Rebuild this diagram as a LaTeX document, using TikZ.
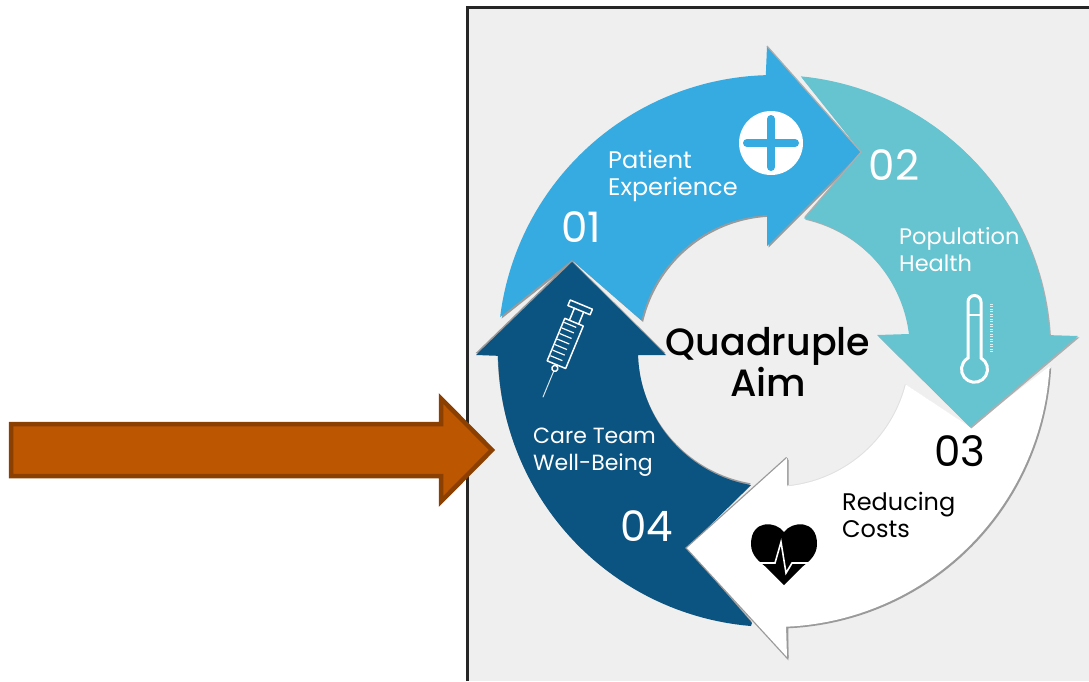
\documentclass[tikz,border=0pt]{standalone}
\usepackage{fontspec}
\setmainfont{Poppins}
\newfontfamily\qfont{Poppins Medium}
\definecolor{bgrey}{HTML}{EFEFEF}
\definecolor{cblue}{HTML}{35ABE2}
\definecolor{cteal}{HTML}{66C3D0}
\definecolor{cdark}{HTML}{0B5380}
\definecolor{corange}{HTML}{BC5600}
\definecolor{cedge}{HTML}{8B3F00}
\definecolor{cshadow}{HTML}{9A9A9A}
\tikzset{
  lab/.style={text=white,align=left,anchor=west,inner sep=0pt,font=\fontsize{#1}{27}\selectfont},
  num/.style={text=white,anchor=center,inner sep=0pt,font=\fontsize{42}{44}\selectfont},
  icon/.style={draw=white,line width=1.5pt,line join=round,line cap=round},
  outerarc/.style 2 args={insert path={-- plot[domain=#1:#2,samples=50] ({774+276*cos(\x)},{351+276*sin(\x)})}},
  innerarc/.style 2 args={insert path={-- plot[domain=#1:#2,samples=40] ({774+136*cos(\x)},{351+136*sin(\x)})}},
  bluepath/.style={insert path={(500,317) [outerarc={187}{268.3}] -- (767,46) -- (861,152) -- (767,246) -- (767,215) [innerarc={266.6}{193}] -- (572,260) -- cycle}},
  tealpath/.style={insert path={(802,78) [outerarc={-84.4}{-3.3}] -- (1078,336) -- (970,427) -- (877,335) -- (909,334) [innerarc={-7.6}{-77.3}] -- (861,152) -- cycle}},
  whitepath/.style={insert path={(1050,366) [outerarc={3.2}{87.5}] -- (787,657) -- (687,548) -- (787,458) -- (787,486) [innerarc={85}{14.3}] -- (970,427) -- cycle}},
  darkpath/.style={insert path={(752,623) [outerarc={94.8}{179}] -- (476,355) -- (572,262) -- (666,355) -- (638,355) [innerarc={178}{99.7}] -- (687,548) -- cycle}}
}
\begin{document}
\begin{tikzpicture}[x=1pt,y=-1pt]
\useasboundingbox (0,0) rectangle (1089,681);
\fill[white] (0,0) rectangle (1089,681);
% frame
\fill[bgrey] (467,7) rectangle (1089,681);
\draw[black!85,line width=3pt] (467,681) -- (467,7) -- (1089,7);
% ring
\fill[cshadow,shift={(1.6,1.6)},bluepath];
\fill[cblue,bluepath];
\fill[cshadow,shift={(-0.5,-1.8)},darkpath];
\fill[cdark,darkpath];
\fill[cshadow,shift={(1.6,1.6)},whitepath];
\draw[cshadow,line width=2.6pt,line join=miter] (787,458) -- (687,548) -- (787,657) -- (787,625);
\draw[cshadow,line width=2.6pt] (787,458) -- (787,486);
\draw[black!12,line width=2pt] plot[domain=85:14.3,samples=40] ({774+136*cos(\x)},{351+136*sin(\x)});
\fill[white,whitepath];
\fill[cshadow!80,shift={(1.4,1.4)},tealpath];
\fill[cteal,tealpath];
\draw[cshadow!80,line width=1.2pt] (767,46) -- (861,152) -- (805,217);
% plus icon
\fill[white] (771,143) circle[radius=32];
\draw[cblue,line width=8pt,line cap=round] (771,119) -- (771,167) (747,143) -- (795,143);
% syringe
\begin{scope}[shift={(543,397)},x={(0.924pt,-0.383pt)},y={(0.383pt,0.924pt)}]
\draw[white!85!cdark,line width=1pt,line cap=round] (0,0) -- (0,28);
\draw[icon] (0,31) circle[radius=3];
\draw[icon] (-10,35) -- (10,35) -- (10,81) -- (-10,81) -- cycle;
\foreach \v in {41,47,...,77} \draw[white,line width=1.2pt] (-9,\v) -- (4,\v);
\draw[icon] (-5,81) -- (-5,94) (5,81) -- (5,94);
\draw[icon] (-12,94) -- (12,94) -- (12,100) -- (-12,100) -- cycle;
\end{scope}
% thermometer
\draw[white,line width=3pt] (968,358) -- (968,302) arc[start angle=180,end angle=360,radius=6.5] -- (981,358)
  arc[start angle=-60,end angle=240,radius=13] -- cycle;
\draw[white,line width=2.2pt] (968,315) -- (981,315);
\foreach \t in {304,306.5,...,352} \draw[white!75!cteal,line width=1pt] (990,\t) -- (993,\t);
% heart
\fill[black] (784,532) .. controls (776,521) and (751,519) .. (751,544)
  .. controls (751,556) and (760,562) .. (766,567) -- (784,585) -- (802,567)
  .. controls (808,562) and (817,556) .. (817,544) .. controls (817,519) and (792,521) .. (784,532) -- cycle;
\draw[white,line width=1.6pt,line join=miter] (760,563) -- (775,563) -- (781,542) -- (786,573) -- (792,563) -- (808,563);
% labels
\node[lab=24] (patient) at (608,176) {Patient\\Experience};
\node[lab=22.5] (population) at (899,250) {Population\\Health};
\node[lab=24,text=black] (reducing) at (842,515) {Reducing\\Costs};
\node[lab=22] (care) at (533,452) {Care Team\\Well-Being};
\node[num] (n1) at (581,227) {01};
\node[num] (n2) at (894,165) {02};
\node[num,text=black] (n3) at (960,451) {03};
\node[num] (n4) at (647,526) {04};
\node[inner sep=0pt,align=center,font=\qfont\fontsize{38}{37}\selectfont] (aim) at (768,362) {Quadruple\\Aim};
% big arrow
\draw[fill=corange,draw=cedge,line width=4.5pt,miter limit=10] (11,424) -- (441,424) -- (441,398.5) -- (492,450) -- (441,501.5) -- (441,476) -- (11,476) -- cycle;
\end{tikzpicture}
\end{document}
